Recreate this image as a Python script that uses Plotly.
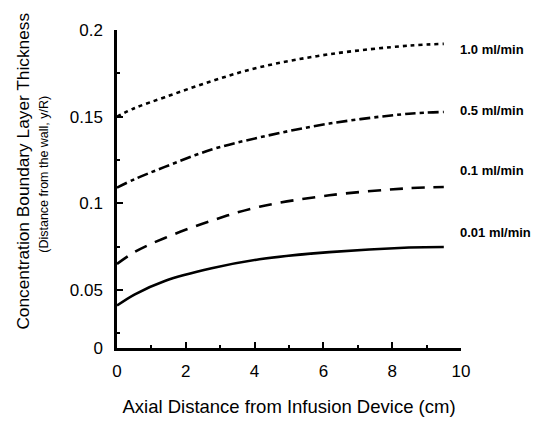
import plotly.graph_objects as go

# Axial distance (cm)
x_cm = [0, 0.52, 1.39, 2.75, 4.14, 6.17, 8.49, 9.5]

# Boundary layer thickness (y/R) per infusion rate
flow_labels = ["1.0 ml/min", "0.5 ml/min", "0.1 ml/min", "0.01 ml/min"]
y_10 = [0.150, 0.155, 0.1612, 0.1705, 0.1785, 0.186, 0.191, 0.192]
y_05 = [0.109, 0.114, 0.121, 0.131, 0.138, 0.146, 0.1517, 0.1527]
y_01 = [0.065, 0.072, 0.080, 0.090, 0.098, 0.1046, 0.1087, 0.1094]
y_001 = [0.041, 0.0475, 0.0552, 0.0625, 0.0677, 0.0718, 0.0745, 0.0748]

series = [y_10, y_05, y_01, y_001]
label_y = [0.1885, 0.1538, 0.1192, 0.0829]

y_ticks = ["0", "0.05", "0.1", "0.15", "0.2"]
x_ticks = ["0", "2", "4", "6", "8", "10"]

dashes = ["4px,4px", "11px,4px,4px,4px", "13px,9px", "solid"]

FONT = "Liberation Sans, Arial, sans-serif"

fig = go.Figure()
for ys, d in zip(series, dashes):
    fig.add_trace(go.Scatter(
        x=x_cm, y=ys, mode="lines",
        line=dict(color="black", width=2.6, dash=d, shape="spline", smoothing=1.0),
        showlegend=False, hoverinfo="skip"))

for txt, ly in zip(flow_labels, label_y):
    fig.add_annotation(x=x_cm[-1], y=ly, xref="x", yref="y", text=f"<b>{txt}</b>",
                       showarrow=False, xanchor="left", xshift=14,
                       font=dict(family=FONT, size=13, color="black"))

y_bottom = 0.0165
fig.update_layout(
    width=554, height=447,
    margin=dict(l=117, r=93, t=30, b=99),
    paper_bgcolor="white", plot_bgcolor="white",
    font=dict(family=FONT, color="black", size=17),
    xaxis=dict(range=[0, 10], tickvals=[0, 2, 4, 6, 8, 10], ticktext=x_ticks,
               showgrid=False, zeroline=False, showline=True, linecolor="black", linewidth=2.5,
               ticks="inside", ticklen=6, tickwidth=2, tickcolor="black",
               minor=dict(tickvals=[1, 3, 5, 7, 9], ticks="inside", ticklen=3, tickwidth=1.5, tickcolor="black"),
               tickfont=dict(size=17), ticklabelstandoff=6,
               title=dict(text="Axial Distance from Infusion Device (cm)", font=dict(size=18.5), standoff=20)),
    yaxis=dict(range=[y_bottom, 0.2], tickvals=[y_bottom, 0.05, 0.1, 0.15, 0.2], ticktext=y_ticks,
               showgrid=False, zeroline=False, showline=True, linecolor="black", linewidth=2.5,
               ticks="inside", ticklen=6, tickwidth=2, tickcolor="black",
               minor=dict(tickvals=[0.025, 0.075, 0.125, 0.175], ticks="inside", ticklen=3, tickwidth=1.5, tickcolor="black"),
               tickfont=dict(size=17), ticklabelstandoff=8),
)

fig.add_annotation(x=-0.274, y=0.557, xref="paper", yref="paper", text="Concentration Boundary Layer Thickness",
                   textangle=-90, showarrow=False, xanchor="center", yanchor="middle",
                   font=dict(family=FONT, size=17.3, color="black"))
fig.add_annotation(x=-0.212, y=0.545, xref="paper", yref="paper", text="(Distance from the wall, y/R)",
                   textangle=-90, showarrow=False, xanchor="center", yanchor="middle",
                   font=dict(family=FONT, size=12.5, color="black"))

fig.write_html("out.html", config={"displayModeBar": False},
               post_script="document.body.style.margin='0';")
